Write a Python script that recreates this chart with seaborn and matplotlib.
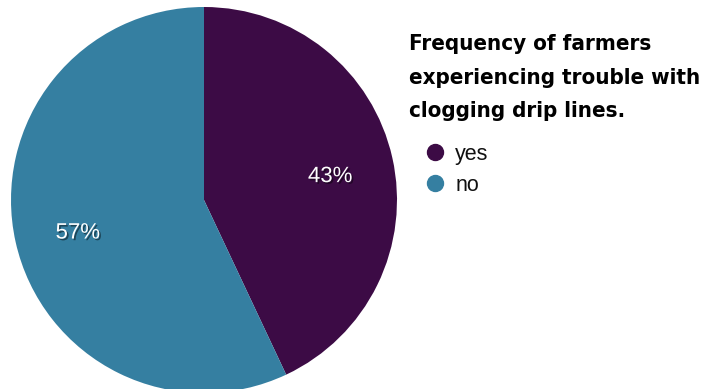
import matplotlib
matplotlib.use("Agg")
import matplotlib.pyplot as plt
import matplotlib.patheffects as pe
from matplotlib.lines import Line2D
import seaborn as sns

# data
labels = ["yes", "no"]
shares = [43, 57]
colors = ["#3c0b45", "#357fa1"]
title = "Frequency of farmers\nexperiencing trouble with\nclogging drip lines."

sns.set_theme(style="white")
plt.rcParams["font.family"] = ["Liberation Sans", "DejaVu Sans"]

fig = plt.figure(figsize=(7.03, 3.89), dpi=100)
ax = fig.add_axes([11 / 703, -4 / 389, 386 / 703, 386 / 389])

wedges, texts, autotexts = ax.pie(
    shares, colors=colors, startangle=90, counterclock=False,
    autopct="%d%%", pctdistance=0.67, radius=1.0,
    wedgeprops=dict(linewidth=0),
)
for t in autotexts:
    t.set_color("white")
    t.set_fontsize(16)
    x, y = t.get_position()
    t.set_position((x, y - 0.025))
    t.set_path_effects([pe.withSimplePatchShadow(offset=(1.2, -1.2), shadow_rgbFace="black", alpha=0.45)])
ax.set_xlim(-1, 1)
ax.set_ylim(-1, 1)
ax.set_aspect("equal")
ax.axis("off")

fig.text(409 / 703, 1 - 34 / 389, title, ha="left", va="top",
         fontsize=16, fontweight="heavy", family="DejaVu Sans",
         fontstretch="condensed", linespacing=1.85, color="black")

handles = [Line2D([], [], marker="o", linestyle="", markersize=11.5,
                  markerfacecolor=c, markeredgecolor=c) for c in colors]
fig.legend(handles, labels, loc="upper left", bbox_to_anchor=(424 / 703, 1 - 144 / 389),
           frameon=False, fontsize=15.5, handlelength=1.0, handletextpad=0.45,
           labelspacing=0.45, borderaxespad=0, borderpad=0, labelcolor="#111111")

fig.savefig("out.png", dpi=100)
